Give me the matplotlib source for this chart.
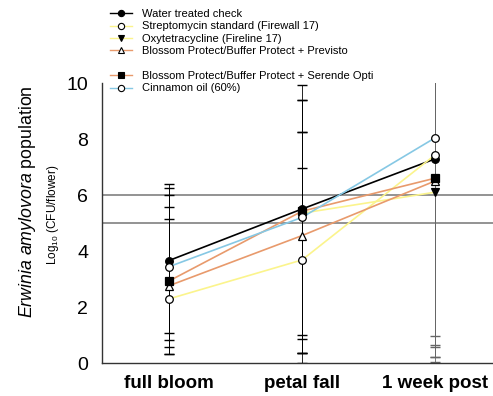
import numpy as np
import matplotlib
matplotlib.use("Agg")
import matplotlib.pyplot as plt
from matplotlib.lines import Line2D

plt.rcParams["font.family"] = ["Liberation Sans", "DejaVu Sans"]
plt.rcParams["mathtext.fontset"] = "custom"
plt.rcParams["mathtext.rm"] = "Liberation Sans"
plt.rcParams["mathtext.it"] = "Liberation Sans:italic"

# sampling times
stages = ["full bloom", "petal fall", "1 week post"]

# mean log10 CFU/flower per treatment
water = [3.66, 5.50, 7.29]
strep = [2.29, 3.68, 7.43]
oxytet = [np.nan, 5.35, 6.10]
previsto = [2.76, 4.55, 6.50]
serende = [2.93, 5.42, 6.60]
cinnamon = [3.44, 5.20, 8.04]

# error bar ends (upper / lower)
water_hi = [6.38, 9.93, 10.5]
water_lo = [0.82, 1.00, 0.98]
strep_hi = [5.14, 6.95, 10.5]
strep_lo = [0.31, 0.37, 0.64]
oxytet_hi = [np.nan, 9.39, 10.5]
oxytet_lo = [np.nan, 0.85, 0.58]
previsto_hi = [5.56, 8.26, 10.5]
previsto_lo = [0.31, 0.37, 0.23]
serende_hi = [6.00, 9.39, 10.5]
serende_lo = [0.56, 0.00, 0.23]
cinnamon_hi = [6.26, 8.26, 10.5]
cinnamon_lo = [1.06, 0.37, 0.05]

yellow = "#fbf48c"
orange = "#e89a6c"
blue = "#86c8e4"

series = [
    ("Water treated check", water, water_hi, water_lo, "black", "o", "black"),
    ("Streptomycin standard (Firewall 17)", strep, strep_hi, strep_lo, yellow, "o", "white"),
    ("Oxytetracycline (Fireline 17)", oxytet, oxytet_hi, oxytet_lo, yellow, "v", "black"),
    ("Blossom Protect/Buffer Protect + Previsto", previsto, previsto_hi, previsto_lo, orange, "^", "white"),
    ("Blossom Protect/Buffer Protect + Serende Opti", serende, serende_hi, serende_lo, orange, "s", "black"),
    ("Cinnamon oil (60%)", cinnamon, cinnamon_hi, cinnamon_lo, blue, "o", "white"),
]

fig = plt.figure(figsize=(4.93, 3.96), dpi=100)
ax = fig.add_axes([102 / 493, 33 / 396, 391 / 493, 280 / 396])

x = np.arange(1, len(stages) + 1)
bar_colors = ["black", "black", "#666666"]

# reference lines
for yv in [5, 6]:
    ax.axhline(yv, color="#8a8a8a", lw=1.3, zorder=1)

# error bars
for name, mean, hi, lo, col, mk, fc in series:
    mean = np.array(mean)
    hi = np.array(hi)
    lo = np.array(lo)
    for i in range(len(x)):
        if np.isnan(mean[i]):
            continue
        ax.errorbar(x[i], mean[i], yerr=[[mean[i] - lo[i]], [hi[i] - mean[i]]],
                    fmt="none", ecolor=bar_colors[i], elinewidth=0.6,
                    capsize=3.3, capthick=1.0, zorder=2)

# lines with markers
handles = []
for name, mean, hi, lo, col, mk, fc in series:
    ax.plot(x, mean, color=col, lw=1.2, zorder=3)
    ax.plot(x, mean, linestyle="none", marker=mk, markersize=5.5,
            markerfacecolor=fc, markeredgecolor="black", markeredgewidth=0.9, zorder=4)
    handles.append(Line2D([], [], color=col, lw=1.0, marker=mk, markersize=4.5,
                          markerfacecolor=fc, markeredgecolor="black",
                          markeredgewidth=0.8, label=name))

ax.set_xlim(0.496, 3.436)
ax.set_ylim(0, 10)
ax.set_xticks(x)
ax.set_xticklabels(stages, fontsize=13.5, fontweight="bold")
ax.set_yticks([0, 2, 4, 6, 8, 10])
ax.tick_params(axis="y", length=0, pad=10, labelsize=14)
ax.tick_params(axis="x", length=0, pad=9)
for s in ["top", "right"]:
    ax.spines[s].set_visible(False)
for s in ["left", "bottom"]:
    ax.spines[s].set_color("#333333")
    ax.spines[s].set_linewidth(1.0)

# axis titles
fig.text(28 / 493, 1 - 202 / 396, r"$\it{Erwinia\ amylovora}$ population",
         rotation=90, ha="center", va="center", fontsize=12.8)
fig.text(53 / 493, 1 - 215 / 396, r"Log$_{10}$ (CFU/flower)",
         rotation=90, ha="center", va="center", fontsize=8.5)

# legends
leg1 = fig.legend(handles=handles[:4], loc="upper left",
                  bbox_to_anchor=(110 / 493, 1 - 9 / 396), frameon=False,
                  fontsize=8, handlelength=2.0, handletextpad=0.9,
                  labelspacing=0.22, borderpad=0, borderaxespad=0)
leg2 = fig.legend(handles=handles[4:], loc="upper left",
                  bbox_to_anchor=(110 / 493, 1 - 71 / 396), frameon=False,
                  fontsize=8, handlelength=2.0, handletextpad=0.9,
                  labelspacing=0.22, borderpad=0, borderaxespad=0)

fig.savefig("out.png", dpi=100)
